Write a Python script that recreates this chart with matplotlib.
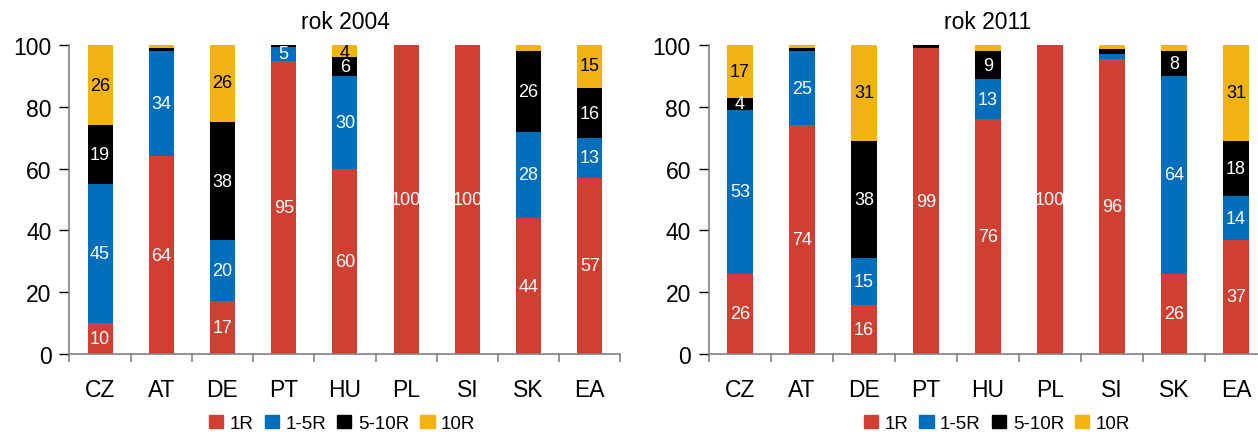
import numpy as np
import matplotlib
matplotlib.use("Agg")
from matplotlib import pyplot as plt
from matplotlib.patches import Patch

plt.rcParams["font.family"] = ["Liberation Sans", "DejaVu Sans"]

countries = ["CZ", "AT", "DE", "PT", "HU", "PL", "SI", "SK", "EA"]
series = ["1R", "1-5R", "5-10R", "10R"]
colors = ["#D04032", "#006EBA", "#000000", "#F0B312"]

# shares 2004, per series
r1_2004 = [10, 64, 17, 95, 60, 100, 100, 44, 57]
r1_5_2004 = [45, 34, 20, 4.3, 30, 0, 0, 28, 13]
r5_10_2004 = [19, 1, 38, 0.7, 6, 0, 0, 26, 16]
r10_2004 = [26, 1, 26, 0, 4, 0, 0, 2, 15]
labels_2004 = [
    ["10", "64", "17", "95", "60", "100", "100", "44", "57"],
    ["45", "34", "20", "5", "30", "", "", "28", "13"],
    ["19", "", "38", "", "6", "", "", "26", "16"],
    ["26", "", "26", "", "4", "", "", "", "15"],
]

# shares 2011, per series
r1_2011 = [26, 74, 16, 99, 76, 100, 95.5, 26, 37]
r1_5_2011 = [53, 24, 15, 0, 13, 0, 1.7, 64, 14]
r5_10_2011 = [4, 1, 38, 1, 9, 0, 1.5, 8, 18]
r10_2011 = [17, 1, 31, 0, 2, 0, 1.3, 2, 31]
labels_2011 = [
    ["26", "74", "16", "99", "76", "100", "96", "26", "37"],
    ["53", "25", "15", "", "13", "", "", "64", "14"],
    ["4", "", "38", "", "9", "", "", "8", "18"],
    ["17", "", "31", "", "", "", "", "", "31"],
]

panels = [
    ("rok 2004", [r1_2004, r1_5_2004, r5_10_2004, r10_2004], labels_2004, 0.495),
    ("rok 2011", [r1_2011, r1_5_2011, r5_10_2011, r10_2011], labels_2011, 0.516),
]

fig = plt.figure(figsize=(12.58, 4.35), dpi=100)
boxes = [[0.0552, 0.184, 0.438, 0.710], [0.5636, 0.184, 0.4436, 0.710]]

x = np.arange(len(countries))
for box, (title, data, labels, leg_x) in zip(boxes, panels):
    ax = fig.add_axes(box)
    bottom = np.zeros(len(countries))
    for vals, col, lab in zip(data, colors, labels):
        vals = np.array(vals, dtype=float)
        ax.bar(x, vals, bottom=bottom, width=0.41, color=col, zorder=2)
        txt_col = "black" if col == "#F0B312" else "white"
        for i, t in enumerate(lab):
            if t:
                ax.text(x[i], min(bottom[i] + vals[i] / 2, 97.5), t,
                        ha="center", va="center", color=txt_col,
                        fontsize=13, zorder=3)
        bottom += vals

    ax.set_xlim(-0.5, 8.5)
    ax.set_ylim(0, 100)
    ax.set_yticks(np.arange(0, 101, 20))
    ax.set_xticks(x)
    ax.set_xticks(np.arange(-0.5, 9, 1), minor=True)
    ax.set_xticklabels(countries, fontsize=16.5)
    ax.tick_params(axis="x", which="major", length=0, pad=17)
    ax.tick_params(axis="x", which="minor", length=6, width=1.2, color="#808080")
    ax.tick_params(axis="y", direction="out", length=7, width=1,
                   color="black", labelsize=16.5, pad=6)
    for s in ["top", "right"]:
        ax.spines[s].set_visible(False)
    for s in ["left", "bottom"]:
        ax.spines[s].set_color("#808080")
        ax.spines[s].set_linewidth(1.2)
    ax.set_title(title, fontsize=16.5, pad=12)

    handles = [Patch(color=c, label=s) for c, s in zip(colors, series)]
    ax.legend(handles=handles, loc="center", bbox_to_anchor=(leg_x, -0.225),
              ncol=4, frameon=False, fontsize=13.5, handlelength=0.75,
              handleheight=0.75, handletextpad=0.35, columnspacing=0.6,
              borderpad=0)

fig.savefig("out.png", dpi=100)
